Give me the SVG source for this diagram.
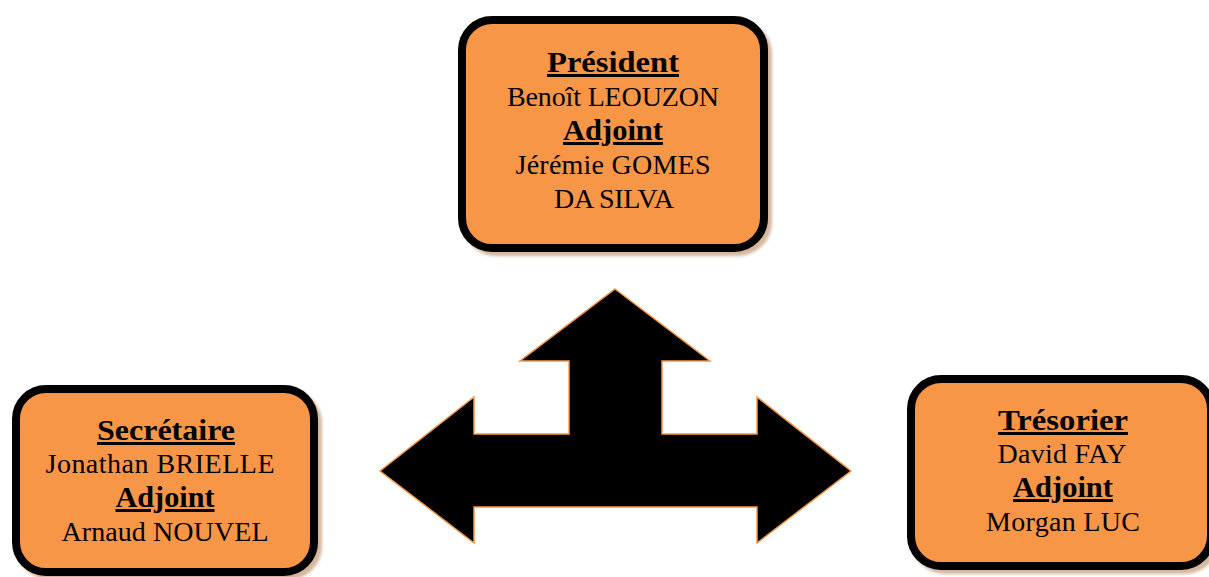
<svg xmlns="http://www.w3.org/2000/svg" width="1209" height="577" viewBox="0 0 1209 577">
<defs>
<filter id="sh" x="-10%" y="-10%" width="130%" height="130%">
<feGaussianBlur stdDeviation="1.5"/>
</filter>
<style>
.box{fill:#F79646;stroke:#000;stroke-width:8}
.shadow{fill:#c9a585;stroke:#c9a585;stroke-width:8;opacity:0.8}
text{font-family:"Liberation Serif","DejaVu Serif",serif;font-size:28px;fill:#000;text-anchor:middle}
.h{font-weight:bold;text-decoration:underline;font-size:30px}
.arrow{fill:#000;stroke:#F79646;stroke-width:1.5}
</style>
</defs>
<rect width="1209" height="577" fill="#fff"/>
<g id="connectors">
<polygon class="arrow" points="615,289 710,361 662,361 662,434 757,434 757,397 851,471 757,543 757,507 474,507 474,543 380,471 474,397 474,434 569,434 569,361 520,361"/>
</g>
<g id="president">
<rect class="shadow" x="466" y="24" width="302" height="228" rx="30" filter="url(#sh)"/>
<rect class="box" x="462" y="20" width="302" height="228" rx="30"/>
<text x="613" y="72" class="h" textLength="132" lengthAdjust="spacingAndGlyphs">Président</text>
<text x="613" y="106" textLength="212" lengthAdjust="spacing">Benoît LEOUZON</text>
<text x="613" y="140" class="h" textLength="100" lengthAdjust="spacingAndGlyphs">Adjoint</text>
<text x="613" y="174" textLength="195" lengthAdjust="spacing">Jérémie GOMES</text>
<text x="614" y="208" textLength="120" lengthAdjust="spacing">DA SILVA</text>
</g>
<g id="secretaire">
<rect class="shadow" x="20" y="393" width="298" height="183" rx="30" filter="url(#sh)"/>
<rect class="box" x="16" y="389" width="298" height="183" rx="30"/>
<text x="166" y="440" class="h" textLength="138" lengthAdjust="spacingAndGlyphs">Secrétaire</text>
<text x="160" y="473" textLength="229" lengthAdjust="spacing">Jonathan BRIELLE</text>
<text x="165" y="507" class="h" textLength="99" lengthAdjust="spacingAndGlyphs">Adjoint</text>
<text x="165" y="541" textLength="207" lengthAdjust="spacing">Arnaud NOUVEL</text>
</g>
<g id="tresorier">
<rect class="shadow" x="915" y="383" width="300" height="187" rx="30" filter="url(#sh)"/>
<rect class="box" x="911" y="379" width="300" height="187" rx="30"/>
<text x="1063" y="430" class="h" textLength="130" lengthAdjust="spacingAndGlyphs">Trésorier</text>
<text x="1062" y="463" textLength="129" lengthAdjust="spacing">David FAY</text>
<text x="1063" y="497" class="h" textLength="100" lengthAdjust="spacingAndGlyphs">Adjoint</text>
<text x="1063" y="531" textLength="154" lengthAdjust="spacing">Morgan LUC</text>
</g>
</svg>
